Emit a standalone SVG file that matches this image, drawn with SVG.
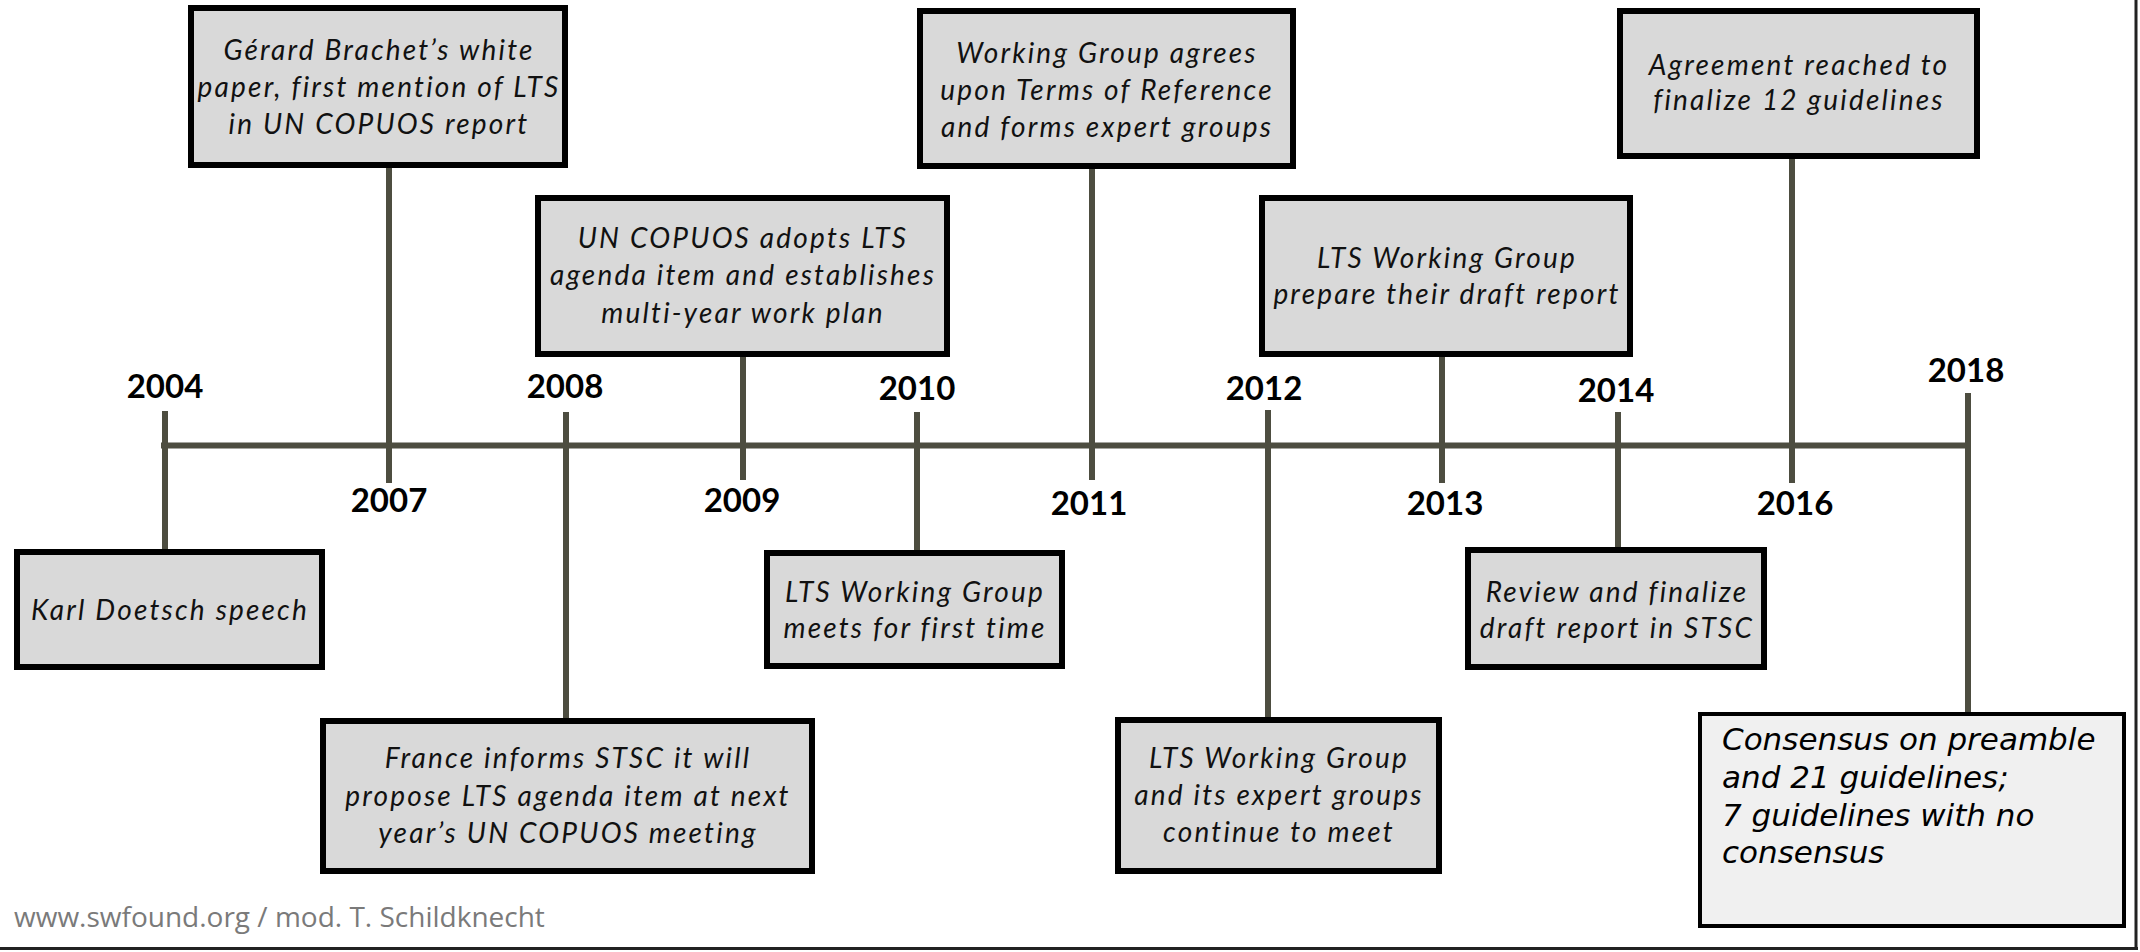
<svg xmlns="http://www.w3.org/2000/svg" width="2140" height="952" viewBox="0 0 2140 952">
<style>
.box{fill:#d9d9d9;stroke:#000;stroke-width:6}
.box2{fill:#f0f0f0;stroke:#000;stroke-width:4}
.t{font-family:Lato,"Liberation Sans",sans-serif;font-style:italic;font-size:28px;letter-spacing:2.2px;fill:#111;text-anchor:middle}
.c{font-family:"DejaVu Sans",sans-serif;font-style:oblique;font-size:31px;fill:#000}
.yr{font-family:Lato,"Liberation Sans",sans-serif;font-weight:bold;font-size:33px;fill:#000;text-anchor:middle}
.ln{stroke:#4d4d40;stroke-width:6;fill:none}
.foot{font-family:"Open Sans",sans-serif;font-size:28px;fill:#7a7a7a}
</style>
<rect width="2140" height="952" fill="#fff"/>
<g id="frame">
<line x1="2136" y1="0" x2="2136" y2="950" stroke="#222" stroke-width="3"/>
<line x1="0" y1="948.5" x2="2138" y2="948.5" stroke="#222" stroke-width="3"/>
</g>
<g id="connectors">
<line class="ln" x1="161" y1="445.5" x2="1971" y2="445.5" stroke-width="9"/>
<line class="ln" x1="165" y1="411" x2="165" y2="549"/>
<line class="ln" x1="389" y1="168" x2="389" y2="483"/>
<line class="ln" x1="566" y1="412" x2="566" y2="718"/>
<line class="ln" x1="743" y1="357" x2="743" y2="480"/>
<line class="ln" x1="917" y1="412" x2="917" y2="550"/>
<line class="ln" x1="1092" y1="169" x2="1092" y2="480"/>
<line class="ln" x1="1268" y1="410" x2="1268" y2="717"/>
<line class="ln" x1="1442" y1="357" x2="1442" y2="483"/>
<line class="ln" x1="1618" y1="412" x2="1618" y2="547"/>
<line class="ln" x1="1792" y1="159" x2="1792" y2="483"/>
<line class="ln" x1="1968" y1="393" x2="1968" y2="712"/>
</g>
<g id="years">
<text class="yr" x="165" y="398">2004</text>
<text class="yr" x="389" y="512">2007</text>
<text class="yr" x="565" y="398">2008</text>
<text class="yr" x="742" y="512">2009</text>
<text class="yr" x="917" y="400">2010</text>
<text class="yr" x="1089" y="515">2011</text>
<text class="yr" x="1264" y="400">2012</text>
<text class="yr" x="1445" y="515">2013</text>
<text class="yr" x="1616" y="402">2014</text>
<text class="yr" x="1795" y="515">2016</text>
<text class="yr" x="1966" y="382">2018</text>
</g>
<g id="n2007">
<rect class="box" x="191" y="8" width="374" height="157"/>
<text class="t" x="379" y="60">Gérard Brachet’s white</text>
<text class="t" x="379" y="97">paper, first mention of LTS</text>
<text class="t" x="379" y="134">in UN COPUOS report</text>
</g>
<g id="n2009">
<rect class="box" x="538" y="198" width="409" height="156"/>
<text class="t" x="743" y="248">UN COPUOS adopts LTS</text>
<text class="t" x="743" y="285">agenda item and establishes</text>
<text class="t" x="743" y="323">multi-year work plan</text>
</g>
<g id="n2011">
<rect class="box" x="920" y="11" width="373" height="155"/>
<text class="t" x="1107" y="63">Working Group agrees</text>
<text class="t" x="1107" y="100">upon Terms of Reference</text>
<text class="t" x="1107" y="137">and forms expert groups</text>
</g>
<g id="n2013">
<rect class="box" x="1262" y="198" width="368" height="156"/>
<text class="t" x="1447" y="268">LTS Working Group</text>
<text class="t" x="1447" y="304">prepare their draft report</text>
</g>
<g id="n2016">
<rect class="box" x="1620" y="11" width="357" height="145"/>
<text class="t" x="1799" y="75">Agreement reached to</text>
<text class="t" x="1799" y="110">finalize 12 guidelines</text>
</g>
<g id="n2004">
<rect class="box" x="17" y="552" width="305" height="115"/>
<text class="t" x="170" y="620">Karl Doetsch speech</text>
</g>
<g id="n2008">
<rect class="box" x="323" y="721" width="489" height="150"/>
<text class="t" x="568" y="768">France informs STSC it will</text>
<text class="t" x="568" y="806">propose LTS agenda item at next</text>
<text class="t" x="568" y="843">year’s UN COPUOS meeting</text>
</g>
<g id="n2010">
<rect class="box" x="767" y="553" width="295" height="113"/>
<text class="t" x="915" y="602">LTS Working Group</text>
<text class="t" x="915" y="638">meets for first time</text>
</g>
<g id="n2012">
<rect class="box" x="1118" y="720" width="321" height="151"/>
<text class="t" x="1279" y="768">LTS Working Group</text>
<text class="t" x="1279" y="805">and its expert groups</text>
<text class="t" x="1279" y="842">continue to meet</text>
</g>
<g id="n2014">
<rect class="box" x="1468" y="550" width="296" height="117"/>
<text class="t" x="1617" y="602">Review and finalize</text>
<text class="t" x="1617" y="638">draft report in STSC</text>
</g>
<g id="n2018">
<rect class="box2" x="1700" y="714" width="424" height="212"/>
<text class="c" x="1722" y="750">Consensus on preamble</text>
<text class="c" x="1722" y="788">and 21 guidelines;</text>
<text class="c" x="1722" y="826">7 guidelines with no</text>
<text class="c" x="1722" y="863">consensus</text>
</g>
<text class="foot" x="14" y="927">www.swfound.org / mod. T. Schildknecht</text>
</svg>
